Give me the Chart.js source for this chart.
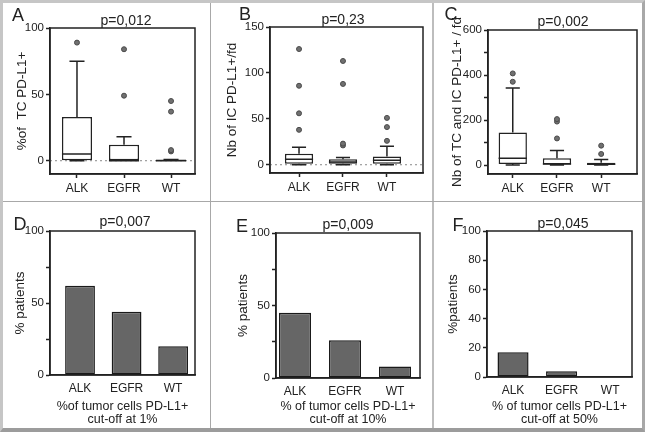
<!DOCTYPE html>
<html>
<head>
<meta charset="utf-8">
<script src="https://cdn.jsdelivr.net/npm/chart.js@4.4.0/dist/chart.umd.min.js"></script>
<style>
  body { margin: 0; background: #fff; }
  #fig { position: relative; width: 645px; height: 434px; overflow: hidden; }
  #fig canvas { position: absolute; }
  .line { position: absolute; background: #a8a8a8; }
  #frame { position: absolute; left: 0; top: 0; width: 645px; height: 432px; box-sizing: border-box;
           border: 3px solid #c6c6c6; border-right-color: #a8a8a8; border-bottom: 4px solid #9c9c9c; }
</style>
</head>
<body>
<div id="fig">
  <div class="line" style="left:210px; top:3px; width:1px; height:426px;"></div>
  <div class="line" style="left:432px; top:3px; width:2px; height:426px; background:#bdbdbd;"></div>
  <div class="line" style="left:3px; top:201px; width:639px; height:1px;"></div>
  <div id="frame"></div>
</div>
<script>
const groups = ['ALK', 'EGFR', 'WT'];

// box plots: [min, q1, median, q3, max] per group, plus outlying points
const tcStats = [[0, 0, 5, 33, 75], [0, 0, 0, 12, 18], [0, 0, 0, 1, 1]];
const tcOutliers = [[89], [49, 84], [7, 8, 37, 45]];
const icStats = [[0, 1, 6, 12, 19], [0, 1, 3, 6, 8], [0, 1, 5, 9, 20]];
const icOutliers = [[38, 56, 86, 126], [21, 23, 88, 113], [26, 41, 51]];
const allStats = [[0, 4, 30, 144, 342], [0, 0, 5, 30, 64], [0, 0, 3, 10, 25]];
const allOutliers = [[370, 407], [118, 193, 204], [49, 86]];

// % patients above cut-off
const cut1 = [62, 44, 20];
const cut10 = [45, 26, 8];
const cut50 = [17, 4, 0];

// y ticks (all marks) and the ones that carry a label
const tcTicks = [0, 50, 100];
const icTicks = [0, 50, 100, 150];
const allTicks = [0, 100, 200, 300, 400, 500, 600];
const allLabels = [0, 200, 400, 600];
const pctTicks = [0, 25, 50, 75, 100];
const pctLabels = [0, 50, 100];
const fineTicks = [0, 10, 20, 30, 40, 50, 60, 70, 80, 90, 100];
const fineLabels = [0, 20, 40, 60, 80, 100];

const fig = document.getElementById('fig');
const family = '"Liberation Sans", Arial, sans-serif';
const ink = '#222';

function whiskers(stats) {
  return {
    id: 'whiskers',
    afterDatasetsDraw(chart) {
      const meta = chart.getDatasetMeta(0);
      const y = chart.scales.y;
      const ctx = chart.ctx;
      ctx.save();
      ctx.strokeStyle = ink;
      ctx.lineWidth = 1.5;
      stats.forEach((s, i) => {
        const bar = meta.data[i];
        const x = bar.x, half = bar.width / 2, cap = bar.width / 4;
        const [lo, q1, med, q3, hi] = s.map(v => y.getPixelForValue(v));
        ctx.beginPath();
        ctx.moveTo(x, q3); ctx.lineTo(x, hi);
        ctx.moveTo(x - cap, hi); ctx.lineTo(x + cap, hi);
        ctx.moveTo(x, q1); ctx.lineTo(x, lo);
        ctx.moveTo(x - cap, lo); ctx.lineTo(x + cap, lo);
        ctx.moveTo(x - half, med); ctx.lineTo(x + half, med);
        ctx.stroke();
      });
      ctx.restore();
    }
  };
}

const zeroLine = {
  id: 'zeroLine',
  beforeDatasetsDraw(chart) {
    const {ctx, chartArea: a} = chart;
    const y0 = chart.scales.y.getPixelForValue(0);
    ctx.save();
    ctx.strokeStyle = '#888';
    ctx.lineWidth = 1;
    ctx.setLineDash([2, 3]);
    ctx.beginPath();
    ctx.moveTo(a.left, y0); ctx.lineTo(a.right, y0);
    ctx.stroke();
    ctx.restore();
  }
};

const boxFrame = {
  id: 'boxFrame',
  afterDraw(chart) {
    const {ctx, chartArea: a} = chart;
    ctx.save();
    ctx.strokeStyle = ink;
    ctx.lineWidth = 1.5;
    ctx.strokeRect(a.left, a.top, a.right - a.left, a.bottom - a.top);
    ctx.restore();
  }
};

function labels(p) {
  return {
    id: 'labels',
    afterDraw(chart) {
      const ctx = chart.ctx;
      const [cx, cy] = p.cell;
      ctx.save();
      ctx.fillStyle = ink;
      ctx.textAlign = 'center';
      ctx.textBaseline = 'middle';
      ctx.font = '18px ' + family;
      ctx.fillText(p.letter, p.letterAt[0] - cx, p.letterAt[1] - cy);
      ctx.font = '14px ' + family;
      ctx.fillText(p.pval, p.pAt[0] - cx, p.pAt[1] - cy);
      ctx.restore();
    }
  };
}

function boxSets(stats, outliers) {
  return [{
    type: 'bar',
    data: stats.map((s, i) => ({x: i + 1, y: [s[1], s[3]]})),
    backgroundColor: '#fff',
    borderColor: ink,
    borderWidth: 1.5,
    borderSkipped: false,
    barPercentage: 0.64,
    categoryPercentage: 1
  }, {
    type: 'scatter',
    data: outliers.flatMap((vals, i) => vals.map(v => ({x: i + 1, y: v}))),
    pointRadius: 2.5,
    backgroundColor: '#707070',
    borderColor: '#4a4a4a',
    borderWidth: 1
  }];
}

function barSets(values) {
  return [{
    type: 'bar',
    data: values.map((v, i) => ({x: i + 1, y: v})),
    backgroundColor: '#666',
    borderColor: '#1a1a1a',
    borderWidth: 1.5,
    borderSkipped: false,
    barPercentage: 0.64,
    categoryPercentage: 1
  }];
}

function panel(p) {
  const [cx, cy, cw, ch] = p.cell;
  const [al, at, ar, ab] = p.area;
  const canvas = document.createElement('canvas');
  canvas.width = cw;
  canvas.height = ch;
  canvas.style.left = cx + 'px';
  canvas.style.top = cy + 'px';
  fig.insertBefore(canvas, fig.firstChild);

  const extra = [labels(p), boxFrame];
  if (p.stats) extra.push(whiskers(p.stats));
  if (p.zero) extra.push(zeroLine);

  new Chart(canvas, {
    type: 'bar',
    data: {datasets: p.datasets},
    options: {
      responsive: false,
      animation: false,
      events: [],
      layout: {padding: {left: 0, top: at - cy, right: cx + cw - ar, bottom: 0}},
      plugins: {legend: {display: false}, tooltip: {enabled: false}},
      scales: {
        x: {
          type: 'linear',
          min: p.xRange[0],
          max: p.xRange[1],
          bounds: 'data',
          offset: false,
          afterFit: s => { s.height = cy + ch - ab; },
          afterBuildTicks: s => { s.ticks = groups.map((g, i) => ({value: i + 1})); },
          ticks: {
            autoSkip: false, maxRotation: 0, color: ink,
            padding: p.stats ? 3 : 6,
            font: {family, size: 12},
            callback: v => groups[v - 1]
          },
          grid: {offset: false, drawOnChartArea: false, drawTicks: !!p.stats, tickLength: 4, tickWidth: 1.5, tickColor: ink},
          border: {color: ink, width: 1.5},
          title: p.xTitle ? {
            display: true, text: p.xTitle, color: ink,
            font: {family, size: 12.5, lineHeight: 1.05},
            padding: {top: 0, bottom: 1.5}
          } : {display: false}
        },
        y: {
          min: p.yRange[0],
          max: p.yRange[1],
          bounds: 'data',
          afterFit: s => { s.width = al - cx; },
          afterBuildTicks: s => { s.ticks = p.yTicks.map(v => ({value: v})); },
          ticks: {
            color: ink, padding: 2,
            font: {family, size: 11.5},
            callback: v => p.yLabels.includes(v) ? String(v) : ''
          },
          grid: {drawOnChartArea: false, tickLength: 4, tickWidth: 1.5, tickColor: ink},
          border: {color: ink, width: 1.5},
          title: {
            display: true, text: p.yTitle, color: ink,
            font: {family, size: 13.5, lineHeight: 1.2},
            padding: {top: p.yTitleX - 8, bottom: 0}
          }
        }
      }
    },
    plugins: extra
  });
}

panel({
  cell: [3, 3, 207, 198], area: [50, 28, 195, 174], xRange: [0.426, 3.51],
  yRange: [-10, 100], yTicks: tcTicks, yLabels: tcTicks, yTitle: '%of  TC PD-L1+', yTitleX: 19,
  letter: 'A', letterAt: [18, 16], pval: 'p=0,012', pAt: [126, 21],
  datasets: boxSets(tcStats, tcOutliers), stats: tcStats, zero: true
});
panel({
  cell: [211, 3, 221, 198], area: [270, 27, 423, 173], xRange: [0.34, 3.82],
  yRange: [-9, 150], yTicks: icTicks, yLabels: icTicks, yTitle: 'Nb of IC PD-L1+/fd', yTitleX: 21,
  letter: 'B', letterAt: [245, 15], pval: 'p=0,23', pAt: [343, 20],
  datasets: boxSets(icStats, icOutliers), stats: icStats, zero: true
});
panel({
  cell: [434, 3, 208, 198], area: [488, 30, 638, 174], xRange: [0.44, 3.81],
  yRange: [-40, 600], yTicks: allTicks, yLabels: allLabels, yTitle: 'Nb of TC and IC PD-L1+ / fd', yTitleX: 23,
  letter: 'C', letterAt: [451, 15], pval: 'p=0,002', pAt: [563, 22],
  datasets: boxSets(allStats, allOutliers), stats: allStats
});
panel({
  cell: [3, 202, 207, 226], area: [50, 231, 195, 375], xRange: [0.355, 3.47],
  yRange: [0, 100], yTicks: pctTicks, yLabels: pctLabels, yTitle: '% patients', yTitleX: 17,
  xTitle: ['%of tumor cells PD-L1+', 'cut-off at 1%'],
  letter: 'D', letterAt: [20, 225], pval: 'p=0,007', pAt: [125, 222],
  datasets: barSets(cut1)
});
panel({
  cell: [211, 202, 221, 226], area: [276, 233, 420, 378], xRange: [0.62, 3.5],
  yRange: [0, 100], yTicks: pctTicks, yLabels: pctLabels, yTitle: '% patients', yTitleX: 32,
  xTitle: ['% of tumor cells PD-L1+', 'cut-off at 10%'],
  letter: 'E', letterAt: [242, 227], pval: 'p=0,009', pAt: [348, 225],
  datasets: barSets(cut10)
});
panel({
  cell: [434, 202, 208, 226], area: [487, 231, 632, 377], xRange: [0.464, 3.45],
  yRange: [0, 100], yTicks: fineTicks, yLabels: fineLabels, yTitle: '%patients', yTitleX: 19,
  xTitle: ['% of tumor cells PD-L1+', 'cut-off at 50%'],
  letter: 'F', letterAt: [458, 226], pval: 'p=0,045', pAt: [563, 224],
  datasets: barSets(cut50)
});
</script>
</body>
</html>
